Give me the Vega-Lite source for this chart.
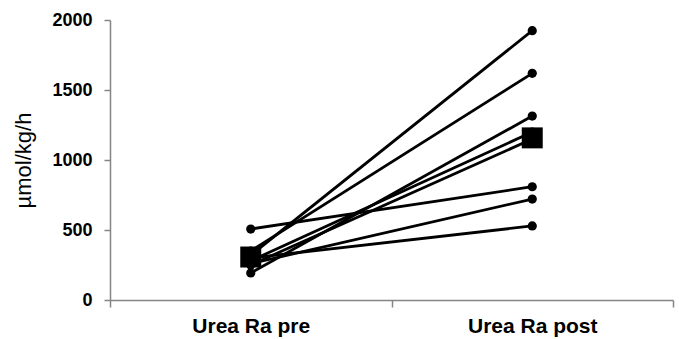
{
  "$schema": "https://vega.github.io/schema/vega-lite/v6.json",
  "width": 563,
  "height": 280,
  "autosize": "none",
  "padding": {"left": 110, "top": 20, "right": 6, "bottom": 39},
  "background": "white",
  "config": {
    "view": {"stroke": null},
    "font": "Liberation Sans"
  },
  "datasets": {
    "subjects": [
      {"subject": "A", "cond": "Urea Ra pre", "value": 320},
      {"subject": "A", "cond": "Urea Ra post", "value": 1924},
      {"subject": "B", "cond": "Urea Ra pre", "value": 350},
      {"subject": "B", "cond": "Urea Ra post", "value": 1619},
      {"subject": "C", "cond": "Urea Ra pre", "value": 193},
      {"subject": "C", "cond": "Urea Ra post", "value": 1314},
      {"subject": "D", "cond": "Urea Ra pre", "value": 280},
      {"subject": "D", "cond": "Urea Ra post", "value": 1200},
      {"subject": "E", "cond": "Urea Ra pre", "value": 250},
      {"subject": "E", "cond": "Urea Ra post", "value": 1150},
      {"subject": "F", "cond": "Urea Ra pre", "value": 507},
      {"subject": "F", "cond": "Urea Ra post", "value": 809},
      {"subject": "G", "cond": "Urea Ra pre", "value": 260},
      {"subject": "G", "cond": "Urea Ra post", "value": 721},
      {"subject": "H", "cond": "Urea Ra pre", "value": 300},
      {"subject": "H", "cond": "Urea Ra post", "value": 529}
    ],
    "means": [
      {"cond": "Urea Ra pre", "value": 307},
      {"cond": "Urea Ra post", "value": 1158}
    ]
  },
  "encoding": {
    "x": {
      "field": "cond",
      "type": "nominal",
      "sort": ["Urea Ra pre", "Urea Ra post"],
      "scale": {"paddingInner": 0, "paddingOuter": 0},
      "axis": {
        "title": null,
        "labelAngle": 0,
        "tickBand": "extent",
        "domainColor": "#858585",
        "domainWidth": 1.5,
        "tickColor": "#858585",
        "tickWidth": 1.5,
        "tickSize": 7,
        "labelFont": "Liberation Sans",
        "labelFontWeight": "bold",
        "labelFontSize": 21,
        "labelColor": "black",
        "labelPadding": 8
      }
    },
    "y": {
      "field": "value",
      "type": "quantitative",
      "scale": {"domain": [0, 2000], "nice": false},
      "axis": {
        "title": "µmol/kg/h",
        "titleFont": "Liberation Sans",
        "titleFontWeight": "normal",
        "titleFontSize": 22,
        "titleColor": "black",
        "titlePadding": 16,
        "values": [0, 500, 1000, 1500, 2000],
        "format": "d",
        "grid": false,
        "domainColor": "#858585",
        "domainWidth": 1.5,
        "tickColor": "#858585",
        "tickWidth": 1.5,
        "tickSize": 6,
        "labelFont": "Liberation Sans",
        "labelFontWeight": "bold",
        "labelFontSize": 18,
        "labelColor": "black",
        "labelPadding": 12
      }
    }
  },
  "layer": [
    {
      "data": {"name": "subjects"},
      "mark": {"type": "line", "color": "black", "strokeWidth": 2.8},
      "encoding": {"detail": {"field": "subject"}}
    },
    {
      "data": {"name": "subjects"},
      "mark": {"type": "point", "shape": "circle", "filled": true, "color": "black", "opacity": 1, "size": 85}
    },
    {
      "data": {"name": "means"},
      "mark": {"type": "point", "shape": "square", "filled": true, "color": "black", "opacity": 1, "size": 440}
    }
  ]
}
